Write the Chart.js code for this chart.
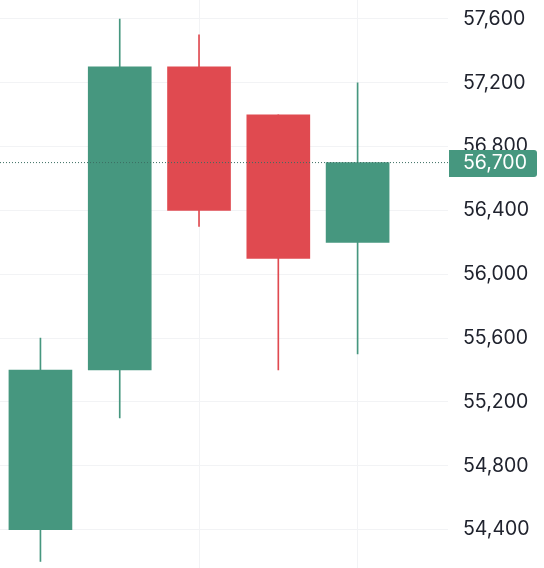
<!DOCTYPE html>
<html>
<head>
<meta charset="utf-8">
<script src="https://cdn.jsdelivr.net/npm/chart.js@4/dist/chart.umd.min.js"></script>
<style>
html, body { margin: 0; padding: 0; background: #fff; }
#wrap { width: 544px; height: 568px; }
</style>
</head>
<body>
<div id="wrap"><canvas id="chartCanvas"></canvas></div>
<script>
const positions = [0, 1, 2, 3, 4];
const opens = [54400, 55400, 57300, 57000, 56200];
const closes = [55400, 57300, 56400, 56100, 56700];
const highs = [55600, 57600, 57500, 57000, 57200];
const lows = [54200, 55100, 56300, 55400, 55500];
const gridPositions = [2, 4];
const priceTicks = [54400, 54800, 55200, 55600, 56000, 56400, 56800, 57200, 57600];
const lastPrice = 56700;

const UP = "#46977f";
const DOWN = "#e04a50";
const GRID = "#f2f3f5";
const FONT = "Inter";
const FONT_SIZE = 19.5;

const candleColors = opens.map((o, i) => closes[i] >= o ? UP : DOWN);

// tag over the axis for the last price
const priceTag = {
    id: "priceTag",
    afterDraw(c) {
        const ctx = c.ctx;
        const y = Math.round(c.scales.y.getPixelForValue(lastPrice));
        ctx.save();
        ctx.fillStyle = UP;
        ctx.beginPath();
        ctx.roundRect(449, y - 13, 88, 27, [0, 3, 3, 0]);
        ctx.fill();
        ctx.fillStyle = "#fff";
        ctx.font = FONT_SIZE + "px " + FONT;
        ctx.textBaseline = "middle";
        ctx.textAlign = "left";
        ctx.fillText(lastPrice.toLocaleString("en-US"), 463, y);
        ctx.restore();
    }
};

new Chart(document.getElementById("chartCanvas"), {
    data: {
        datasets: [
            {
                type: "line",
                data: [{ x: -0.51, y: lastPrice }, { x: 5.14, y: lastPrice }],
                borderColor: "#3c6e62",
                borderWidth: 1,
                borderDash: [1, 2],
                pointRadius: 0,
                order: 0
            },
            {
                type: "bar",
                data: positions.map((x, i) => ({ x: x, y: [opens[i], closes[i]] })),
                backgroundColor: candleColors,
                borderWidth: 0,
                barThickness: 63,
                grouped: false,
                order: 1
            },
            {
                type: "bar",
                data: positions.map((x, i) => ({ x: x, y: [lows[i], highs[i]] })),
                backgroundColor: candleColors,
                borderWidth: 0,
                barThickness: 1,
                grouped: false,
                order: 2
            }
        ]
    },
    options: {
        responsive: true,
        maintainAspectRatio: false,
        animation: false,
        layout: { padding: 0, autoPadding: false },
        plugins: { legend: { display: false }, tooltip: { enabled: false } },
        scales: {
            x: {
                type: "linear",
                offset: false,
                min: -0.51,
                max: 5.14,
                afterBuildTicks: axis => { axis.ticks = gridPositions.map(v => ({ value: v })); },
                afterFit: axis => { axis.height = 0; axis.paddingLeft = 0; axis.paddingRight = 0; },
                grid: { color: GRID, drawTicks: false, offset: false },
                border: { display: false },
                ticks: { display: false }
            },
            y: {
                position: "right",
                min: 54159,
                max: 57719,
                afterBuildTicks: axis => { axis.ticks = priceTicks.map(v => ({ value: v })); },
                afterFit: axis => { axis.width = 96; axis.paddingTop = 0; axis.paddingBottom = 0; },
                grid: { color: GRID, drawTicks: false },
                border: { display: false },
                ticks: {
                    padding: 15,
                    color: "#20232e",
                    font: { family: FONT, size: FONT_SIZE },
                    callback: v => v.toLocaleString("en-US")
                }
            }
        }
    },
    plugins: [priceTag]
});
</script>
</body>
</html>
